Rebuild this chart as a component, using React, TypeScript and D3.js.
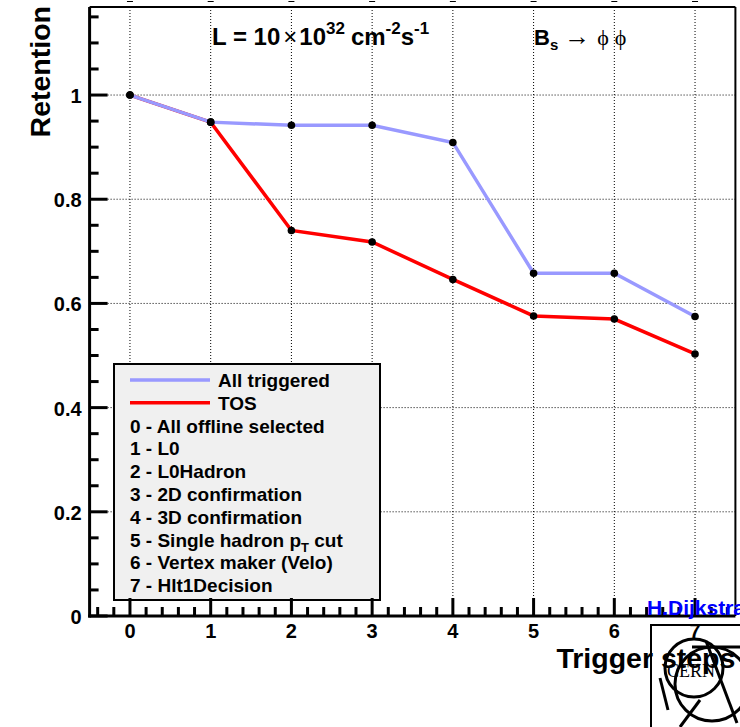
import React from 'react';
import * as d3 from 'd3';

// trigger step index on x, retention on y
const steps = [0, 1, 2, 3, 4, 5, 6, 7];
const allTriggered = [1.0, 0.948, 0.942, 0.942, 0.909, 0.658, 0.658, 0.575];
const tos = [1.0, 0.948, 0.74, 0.718, 0.646, 0.576, 0.57, 0.503];

const stepNames = [
  '0 - All offline selected',
  '1 - L0',
  '2 - L0Hadron',
  '3 - 2D confirmation',
  '4 - 3D confirmation',
  '5 - Single hadron p',
  '6 - Vertex maker (Velo)',
  '7 - Hlt1Decision',
];

const yMajor = [0, 0.2, 0.4, 0.6, 0.8, 1.0, 1.2];
const yLabels = ['0', '0.2', '0.4', '0.6', '0.8', '1', '1.2'];

const W = 740;
const H = 727;
const FONT = '"Liberation Sans", Arial, Helvetica, sans-serif';
const SERIF = '"Liberation Serif", "Times New Roman", serif';

const App = () => {
  const x = d3.scaleLinear().domain([-0.5, 7.5]).range([89.6, 735.4]);
  const y = d3.scaleLinear().domain([0, 1.169]).range([616, 7]);

  const line = d3
    .line<number>()
    .x((_, i) => x(steps[i]))
    .y((d) => y(d));

  const yMinor = d3.range(0, 1.17, 0.05).filter((v) => Math.abs(v / 0.2 - Math.round(v / 0.2)) > 1e-6);
  const xMinor = d3.range(-0.4, 7.5, 0.2).filter((v) => Math.abs(v - Math.round(v)) > 1e-6);

  const [x0, x1] = x.range();
  const [y0, y1] = y.range();

  // legend box
  const lg = { left: 114, top: 364, width: 266, height: 236 };
  const rowH = 22.8;
  const firstBase = lg.top + 23;

  return (
    <svg
      width={W}
      height={H}
      style={{ position: 'absolute', left: 0, top: 0, background: '#fff' }}
      fontFamily={FONT}
    >
      <rect x={0} y={0} width={W} height={H} fill="#fff" />

      {/* grid */}
      <g stroke="#000" strokeWidth={1} strokeDasharray="1,2">
        {yMajor
          .filter((v) => v > 0 && v < 1.169)
          .map((v) => (
            <line key={'gy' + v} x1={x0} x2={x1} y1={y(v)} y2={y(v)} />
          ))}
        {steps.map((s) => (
          <line key={'gx' + s} x1={x(s)} x2={x(s)} y1={y1} y2={y0} />
        ))}
      </g>
      {/* little dashes above the frame */}
      <g stroke="#000" strokeWidth={1}>
        {steps.map((s) => (
          <line key={'td' + s} x1={x(s) - 3} x2={x(s) + 3} y1={1.5} y2={1.5} />
        ))}
      </g>

      {/* curves */}
      <path d={line(tos) || ''} fill="none" stroke="#ff0000" strokeWidth={3.5} />
      <path d={line(allTriggered) || ''} fill="none" stroke="#9999ff" strokeWidth={3.5} />
      {[tos, allTriggered].map((series, k) =>
        series.map((v, i) => <circle key={k + '-' + i} cx={x(steps[i])} cy={y(v)} r={3.8} fill="#000" />)
      )}

      {/* frame */}
      <line x1={x0} x2={x1} y1={y1} y2={y1} stroke="#000" strokeWidth={2} />
      <line x1={x1} x2={x1} y1={y1} y2={y0} stroke="#000" strokeWidth={2} />

      {/* legend */}
      <rect x={lg.left} y={lg.top} width={lg.width} height={lg.height} fill="#f0f0f0" stroke="#000" strokeWidth={2} />
      <g fontWeight="bold" fontSize={19} fill="#000">
        <line x1={130} x2={210} y1={firstBase - 7} y2={firstBase - 7} stroke="#9999ff" strokeWidth={3.5} />
        <text x={218} y={firstBase}>All triggered</text>
        <line x1={130} x2={210} y1={firstBase + rowH - 7} y2={firstBase + rowH - 7} stroke="#ff0000" strokeWidth={3.5} />
        <text x={218} y={firstBase + rowH}>TOS</text>
        {stepNames.map((n, i) => (
          <text key={n} x={130} y={firstBase + rowH * (i + 2)}>
            {n}
            {i === 5 && (
              <>
                <tspan fontSize={13} dy={5}>T</tspan>
                <tspan dy={-5}> cut</tspan>
              </>
            )}
          </text>
        ))}
      </g>

      {/* y axis */}
      <line x1={x0} x2={x0} y1={y1} y2={y0 + 1.5} stroke="#000" strokeWidth={3} />
      <g stroke="#000" strokeWidth={3}>
        {yMajor
          .filter((v) => v < 1.169)
          .map((v) => (
            <line key={'ym' + v} x1={x0} x2={x0 + 18} y1={y(v)} y2={y(v)} />
          ))}
        {yMinor.map((v) => (
          <line key={'yn' + v} x1={x0} x2={x0 + 9} y1={y(v)} y2={y(v)} />
        ))}
      </g>
      <g fontWeight="bold" fontSize={20} textAnchor="end">
        {yMajor.map((v, i) => (
          <text key={'yl' + v} x={x0 - 8} y={y(v) + 8}>
            {yLabels[i]}
          </text>
        ))}
      </g>

      {/* x axis */}
      <line x1={x0 - 1.5} x2={x1} y1={y0} y2={y0} stroke="#000" strokeWidth={3} />
      <g stroke="#000" strokeWidth={3}>
        {steps.map((s) => (
          <line key={'xm' + s} x1={x(s)} x2={x(s)} y1={y0} y2={y0 - 18} />
        ))}
        {xMinor.map((v) => (
          <line key={'xn' + v} x1={x(v)} x2={x(v)} y1={y0} y2={y0 - 9} />
        ))}
      </g>
      <g fontWeight="bold" fontSize={20} textAnchor="middle">
        {steps.map((s) => (
          <text key={'xl' + s} x={x(s)} y={y0 + 22}>
            {s}
          </text>
        ))}
      </g>

      {/* axis titles */}
      <text
        transform={`translate(50, ${y1 - 1}) rotate(-90)`}
        textAnchor="end"
        fontWeight="bold"
        fontSize={28.5}
      >
        Retention
      </text>

      {/* CERN logo */}
      <g fill="none" stroke="#000" strokeWidth={3}>
        <rect x={651} y={625} width={120} height={130} strokeWidth={2} />
        <circle cx={694} cy={668} r={29} />
        <circle cx={712} cy={684} r={37} />
        <line x1={660} y1={678} x2={668} y2={710} />
        <line x1={700} y1={700} x2={680} y2={727} />
        <line x1={706} y1={641} x2={737} y2={723} />
        <line x1={692} y1={647} x2={745} y2={647} />
      </g>
      <text x={667} y={677} fontFamily={SERIF} fontSize={18} fill="#000">
        CERN
      </text>

      <text x={x1} y={668} textAnchor="end" fontWeight="bold" fontSize={28.5}>
        Trigger steps
      </text>

      <text x={647} y={615} fontWeight="bold" fontSize={21} fill="#0000ff">
        H.Dijkstra
      </text>

      {/* labels in the plot */}
      <text x={212} y={45} fontWeight="bold" fontSize={24}>
        L = 10
        <tspan fontWeight="normal" dx={3}>×</tspan>
        <tspan dx={2}>10</tspan>
        <tspan fontSize={17} dy={-11}>32</tspan>
        <tspan dy={11} dx={6}>cm</tspan>
        <tspan fontSize={17} dy={-11}>-2</tspan>
        <tspan dy={11}>s</tspan>
        <tspan fontSize={17} dy={-11}>-1</tspan>
      </text>
      <text x={534} y={45} fontWeight="bold" fontSize={22}>
        B<tspan fontSize={15} dy={5}>s</tspan>
        <tspan dy={-5} dx={6} fontWeight="normal" fontFamily={SERIF} fontSize={26}>→</tspan>
        <tspan dx={7} fontWeight="normal" fontFamily={SERIF}>ϕ</tspan>
        <tspan dx={6} fontWeight="normal" fontFamily={SERIF}>ϕ</tspan>
      </text>
    </svg>
  );
};

export default App;
